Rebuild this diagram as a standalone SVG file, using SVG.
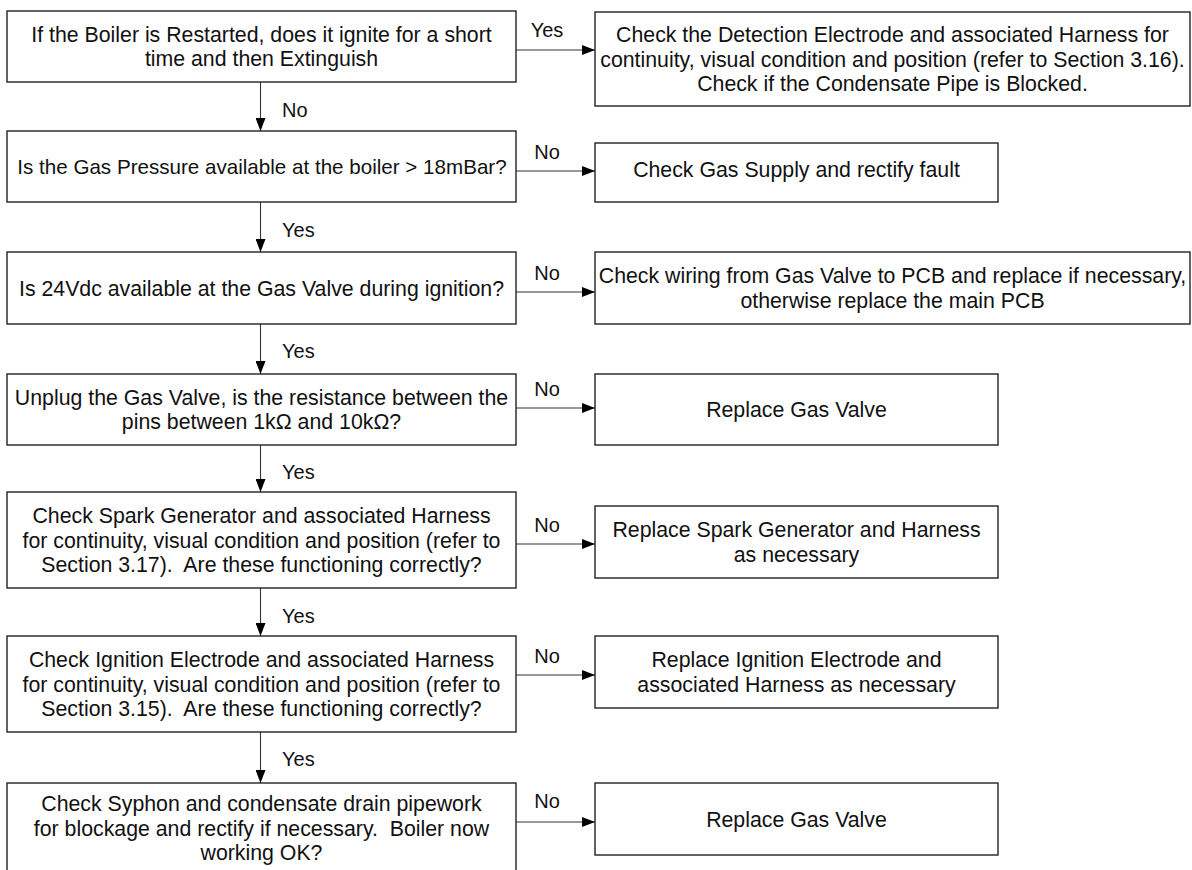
<svg xmlns="http://www.w3.org/2000/svg" width="1192" height="870" viewBox="0 0 1192 870">
<style>
.box{fill:#fff;stroke:#222;stroke-width:1.4}
.t{font-family:"Liberation Sans",Arial,sans-serif;font-size:21.3px;fill:#111;text-anchor:middle}
.lbl{font-family:"Liberation Sans",Arial,sans-serif;font-size:20px;fill:#111}
.c{stroke:#333;stroke-width:1.1;fill:none;marker-end:url(#ah)}
</style>
<defs>
<marker id="ah" viewBox="0 0 13 10" refX="13" refY="5" markerWidth="13" markerHeight="10" markerUnits="userSpaceOnUse" orient="auto">
<path d="M0,0 L13,5 L0,10 Z" fill="#000"/>
</marker>
</defs>
<rect width="1192" height="870" fill="#fff"/>
<g id="connectors">
<line class="c" x1="516" y1="50" x2="595" y2="50"/>
<line class="c" x1="516" y1="171" x2="595" y2="171"/>
<line class="c" x1="516" y1="292" x2="595" y2="292"/>
<line class="c" x1="516" y1="408" x2="595" y2="408"/>
<line class="c" x1="516" y1="544" x2="595" y2="544"/>
<line class="c" x1="516" y1="675" x2="595" y2="675"/>
<line class="c" x1="516" y1="822" x2="595" y2="822"/>
<line class="c" x1="260.5" y1="82" x2="260.5" y2="131"/>
<line class="c" x1="260.5" y1="202" x2="260.5" y2="252"/>
<line class="c" x1="260.5" y1="324" x2="260.5" y2="374"/>
<line class="c" x1="260.5" y1="445" x2="260.5" y2="492"/>
<line class="c" x1="260.5" y1="588" x2="260.5" y2="636"/>
<line class="c" x1="260.5" y1="732" x2="260.5" y2="783"/>
<text class="lbl" x="547" y="37" text-anchor="middle">Yes</text>
<text class="lbl" x="547" y="159" text-anchor="middle">No</text>
<text class="lbl" x="547" y="280" text-anchor="middle">No</text>
<text class="lbl" x="547" y="396" text-anchor="middle">No</text>
<text class="lbl" x="547" y="532" text-anchor="middle">No</text>
<text class="lbl" x="547" y="663" text-anchor="middle">No</text>
<text class="lbl" x="547" y="808" text-anchor="middle">No</text>
<text class="lbl" x="282" y="117">No</text>
<text class="lbl" x="282" y="237">Yes</text>
<text class="lbl" x="282" y="358">Yes</text>
<text class="lbl" x="282" y="479">Yes</text>
<text class="lbl" x="282" y="623">Yes</text>
<text class="lbl" x="282" y="766">Yes</text>
</g>
<g id="q1">
<rect class="box" x="7" y="11" width="509" height="71"/>
<text class="t" x="261.5" y="41.6">If the Boiler is Restarted, does it ignite for a short</text>
<text class="t" x="261.5" y="66.3">time and then Extinguish</text>
</g>
<g id="a1">
<rect class="box" x="595" y="12" width="595" height="94"/>
<text class="t" x="892.5" y="41.8">Check the Detection Electrode and associated Harness for</text>
<text class="t" x="892.5" y="66.5">continuity, visual condition and position (refer to Section 3.16).</text>
<text class="t" x="892.5" y="91.2">Check if the Condensate Pipe is Blocked.</text>
</g>
<g id="q2">
<rect class="box" x="7" y="131" width="509" height="71"/>
<text class="t" x="262" y="174" style="font-size:20.6px">Is the Gas Pressure available at the boiler &gt; 18mBar?</text>
</g>
<g id="a2">
<rect class="box" x="595" y="143" width="403" height="59"/>
<text class="t" x="796.5" y="177">Check Gas Supply and rectify fault</text>
</g>
<g id="q3">
<rect class="box" x="7" y="252" width="509" height="72"/>
<text class="t" x="261.5" y="295.5">Is 24Vdc available at the Gas Valve during ignition?</text>
</g>
<g id="a3">
<rect class="box" x="595" y="252" width="595" height="72"/>
<text class="t" x="892.5" y="283.2">Check wiring from Gas Valve to PCB and replace if necessary,</text>
<text class="t" x="892.5" y="307.9">otherwise replace the main PCB</text>
</g>
<g id="q4">
<rect class="box" x="7" y="374" width="509" height="71"/>
<text class="t" x="261.5" y="404.6">Unplug the Gas Valve, is the resistance between the</text>
<text class="t" x="261.5" y="429.3">pins between 1kΩ and 10kΩ?</text>
</g>
<g id="a4">
<rect class="box" x="595" y="374" width="403" height="71"/>
<text class="t" x="796.5" y="417">Replace Gas Valve</text>
</g>
<g id="q5">
<rect class="box" x="7" y="492" width="509" height="96"/>
<text class="t" x="261.5" y="522.8">Check Spark Generator and associated Harness</text>
<text class="t" x="261.5" y="547.5">for continuity, visual condition and position (refer to</text>
<text class="t" x="261.5" y="572.2" xml:space="preserve">Section 3.17).  Are these functioning correctly?</text>
</g>
<g id="a5">
<rect class="box" x="595" y="506" width="403" height="72"/>
<text class="t" x="796.5" y="537.2">Replace Spark Generator and Harness</text>
<text class="t" x="796.5" y="561.9">as necessary</text>
</g>
<g id="q6">
<rect class="box" x="7" y="636" width="509" height="96"/>
<text class="t" x="261.5" y="666.8">Check Ignition Electrode and associated Harness</text>
<text class="t" x="261.5" y="691.5">for continuity, visual condition and position (refer to</text>
<text class="t" x="261.5" y="716.2" xml:space="preserve">Section 3.15).  Are these functioning correctly?</text>
</g>
<g id="a6">
<rect class="box" x="595" y="636" width="403" height="72"/>
<text class="t" x="796.5" y="667.2">Replace Ignition Electrode and</text>
<text class="t" x="796.5" y="691.9">associated Harness as necessary</text>
</g>
<g id="q7">
<rect class="box" x="7" y="783" width="509" height="92"/>
<text class="t" x="261.5" y="810.8">Check Syphon and condensate drain pipework</text>
<text class="t" x="261.5" y="835.5" xml:space="preserve">for blockage and rectify if necessary.  Boiler now</text>
<text class="t" x="261.5" y="860.2">working OK?</text>
</g>
<g id="a7">
<rect class="box" x="595" y="783" width="403" height="72"/>
<text class="t" x="796.5" y="826.5">Replace Gas Valve</text>
</g>
</svg>
